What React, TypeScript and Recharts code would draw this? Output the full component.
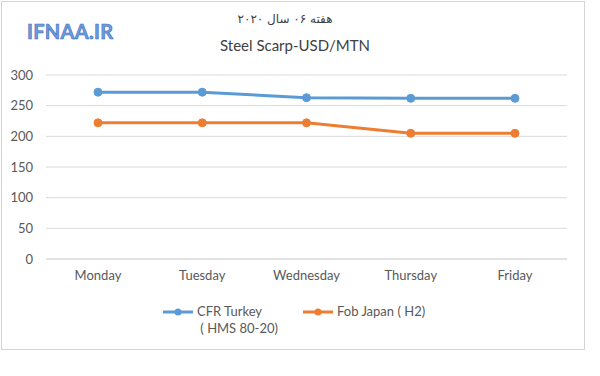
import { CartesianGrid, Line, LineChart, XAxis, YAxis } from 'recharts'

const DAYS = ['Monday', 'Tuesday', 'Wednesday', 'Thursday', 'Friday']
const CFR_TURKEY = [272, 272, 263, 262, 262]
const FOB_JAPAN = [222, 222, 222, 205, 205]
const Y_TICKS = [0, 50, 100, 150, 200, 250, 300]

const BLUE = '#5b9bd5'
const ORANGE = '#ed7d31'
const FONT = 'Lato, "Open Sans", sans-serif'

const data = DAYS.map((day, i) => ({ day, cfr: CFR_TURKEY[i], fob: FOB_JAPAN[i] }))

function LegendIcon({ color }: { color: string }) {
  return (
    <svg width={32} height={10} style={{ display: 'block' }}>
      <line x1={1} y1={5} x2={31} y2={5} stroke={color} strokeWidth={3} />
      <circle cx={16} cy={5} r={3.5} fill={color} />
    </svg>
  )
}

function ChartLegend() {
  return (
    <div
      style={{
        position: 'absolute',
        left: 0,
        top: 303,
        width: 600,
        height: 40,
        fontFamily: FONT,
        fontSize: 13,
        color: '#595959',
      }}
    >
      <div style={{ position: 'absolute', left: 162, top: 0, display: 'flex', alignItems: 'flex-start' }}>
        <div style={{ marginTop: 4 }}>
          <LegendIcon color={BLUE} />
        </div>
        <div style={{ marginLeft: 3, lineHeight: '17px' }}>
          CFR Turkey
          <br />
          &nbsp;( HMS 80-20)
        </div>
      </div>
      <div style={{ position: 'absolute', left: 302, top: 0, display: 'flex', alignItems: 'flex-start' }}>
        <div style={{ marginTop: 4 }}>
          <LegendIcon color={ORANGE} />
        </div>
        <div style={{ marginLeft: 3, lineHeight: '17px' }}>Fob Japan ( H2)</div>
      </div>
    </div>
  )
}

export default function App() {
  return (
    <div style={{ position: 'absolute', left: 0, top: 0, width: 600, height: 376, background: '#fff' }}>
      <div
        style={{
          position: 'absolute',
          left: 1,
          top: 1,
          width: 582,
          height: 347,
          border: '1px solid #d4d4d4',
        }}
      />
      <div
        style={{
          position: 'absolute',
          left: 27,
          top: 19,
          fontFamily: 'Lato, sans-serif',
          fontSize: 20,
          fontWeight: 700,
          color: '#6d9be0',
          WebkitTextStroke: '0.6px #3f6fb8',
          letterSpacing: 0.3,
        }}
      >
        IFNAA.IR
      </div>
      <div
        dir="rtl"
        style={{
          position: 'absolute',
          left: 200,
          width: 170,
          top: 12,
          textAlign: 'center',
          fontFamily: '"DejaVu Sans", "Noto Sans", sans-serif',
          fontSize: 12,
          color: '#404040',
        }}
      >
        هفته ۰۶ سال ۲۰۲۰
      </div>
      <div
        style={{
          position: 'absolute',
          left: 0,
          width: 590,
          top: 36,
          textAlign: 'center',
          fontFamily: FONT,
          fontSize: 15,
          color: '#404040',
        }}
      >
        Steel Scarp-USD/MTN
      </div>
      <div style={{ position: 'absolute', left: 0, top: 0 }}>
        <LineChart width={600} height={376} data={data} margin={{ top: 75, right: 33, bottom: 87, left: 0 }}>
          <CartesianGrid vertical={false} stroke="#d9d9d9" />
          <XAxis
            dataKey="day"
            padding={{ left: 52, right: 52 }}
            axisLine={{ stroke: '#d9d9d9' }}
            tickLine={false}
            tickSize={0}
            tickMargin={12}
            height={30}
            tick={{ fill: '#595959', fontSize: 13, fontFamily: FONT }}
          />
          <YAxis
            width={46}
            domain={[0, 300]}
            ticks={Y_TICKS}
            interval={0}
            axisLine={false}
            tickLine={false}
            tickSize={0}
            tickMargin={13}
            tick={{ fill: '#595959', fontSize: 13, fontFamily: FONT }}
          />
          <Line
            dataKey="cfr"
            name="CFR Turkey ( HMS 80-20)"
            stroke={BLUE}
            strokeWidth={3}
            dot={{ r: 4, fill: BLUE, stroke: BLUE, strokeWidth: 1 }}
            isAnimationActive={false}
          />
          <Line
            dataKey="fob"
            name="Fob Japan ( H2)"
            stroke={ORANGE}
            strokeWidth={3}
            dot={{ r: 4, fill: ORANGE, stroke: ORANGE, strokeWidth: 1 }}
            isAnimationActive={false}
          />
        </LineChart>
      </div>
      <ChartLegend />
    </div>
  )
}
